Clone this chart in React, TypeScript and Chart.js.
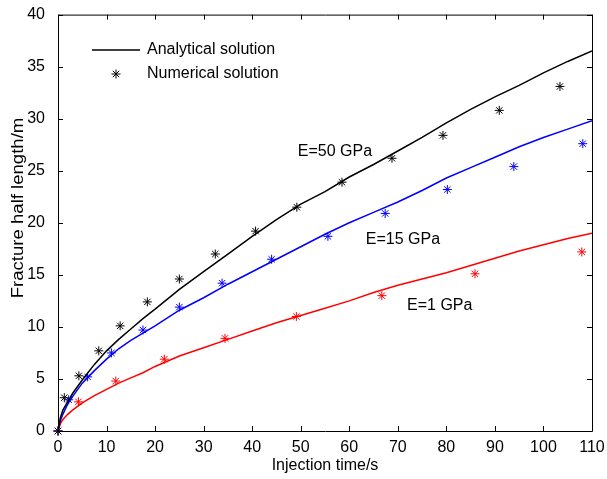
import React, { useEffect, useRef } from "react";
import { Chart, registerables } from "chart.js";
Chart.register(...registerables);

const tAnalytical = [0, 0.5, 1, 2, 3, 5, 7.5, 10, 12.5, 15, 17.5, 20, 25, 30, 35, 40, 45, 50, 55, 60, 65, 70, 75, 80, 85, 90, 95, 100, 105, 110];
const yAnalytical50 = [0, 1.3, 2.0, 2.8, 3.6, 4.9, 6.4, 7.7, 8.8, 9.8, 10.8, 11.7, 13.6, 15.3, 17.0, 18.7, 20.3, 21.8, 23.0, 24.4, 25.6, 26.9, 28.2, 29.6, 30.9, 32.1, 33.2, 34.4, 35.5, 36.5];
const yAnalytical15 = [0, 1.0, 1.6, 2.6, 3.3, 4.6, 5.8, 6.9, 7.9, 8.7, 9.4, 10.1, 11.6, 12.8, 14.1, 15.3, 16.5, 17.7, 18.9, 20.0, 21.0, 22.0, 23.1, 24.3, 25.3, 26.3, 27.3, 28.2, 29.0, 29.8];
const yAnalytical1 = [0, 0.7, 1.1, 1.6, 2.0, 2.7, 3.4, 4.0, 4.6, 5.1, 5.6, 6.2, 7.2, 8.0, 8.8, 9.6, 10.4, 11.1, 11.8, 12.5, 13.3, 14.0, 14.6, 15.2, 15.9, 16.6, 17.3, 17.9, 18.5, 19.0];

const tNum50 = [0, 1.3, 4.3, 8.4, 12.8, 18.4, 25.0, 32.4, 40.7, 49.2, 58.5, 68.8, 79.3, 90.9, 103.4];
const yNum50 = [0, 3.2, 5.3, 7.7, 10.1, 12.4, 14.6, 17.0, 19.2, 21.5, 23.9, 26.2, 28.4, 30.8, 33.1];
const tNum15 = [0, 2.2, 6.1, 11.0, 17.5, 25.0, 33.8, 44.0, 55.6, 67.4, 80.2, 93.9, 108.1];
const yNum15 = [0, 3.0, 5.2, 7.5, 9.7, 11.9, 14.2, 16.5, 18.7, 20.9, 23.2, 25.4, 27.6];
const tNum1 = [0, 4.2, 11.9, 21.9, 34.4, 49.1, 66.7, 85.9, 107.9];
const yNum1 = [0, 2.8, 4.8, 6.9, 8.9, 11.0, 13.0, 15.1, 17.2];

const xTicks = [0, 10, 20, 30, 40, 50, 60, 70, 80, 90, 100, 110];
const yTicks = [0, 5, 10, 15, 20, 25, 30, 35, 40];

const annotations = [
  { text: "E=50 GPa", x: 49.4, y: 26.8 },
  { text: "E=15 GPa", x: 63.4, y: 18.4 },
  { text: "E=1 GPa", x: 71.9, y: 12.0 },
];

const FAMILY = "'Liberation Sans', Arial, sans-serif";
const FONT = "16px " + FAMILY;
const pts = (xs: number[], ys: number[]) => xs.map((x, i) => ({ x, y: ys[i] }));

const overlay = {
  id: "overlay",
  afterDraw(chart: any) {
    const { ctx, chartArea: a, scales } = chart;
    const xs = scales.x, ys = scales.y;
    ctx.save();
    ctx.strokeStyle = "#000";
    ctx.lineWidth = 1;
    ctx.beginPath();
    ctx.rect(a.left + 0.5, a.top + 0.5, a.right - a.left, a.bottom - a.top);
    ctx.stroke();
    ctx.beginPath();
    const tl = 5;
    xTicks.forEach((v) => {
      const px = Math.round(xs.getPixelForValue(v)) + 0.5;
      ctx.moveTo(px, a.bottom); ctx.lineTo(px, a.bottom - tl);
      ctx.moveTo(px, a.top); ctx.lineTo(px, a.top + tl);
    });
    yTicks.forEach((v) => {
      const py = Math.round(ys.getPixelForValue(v)) + 0.5;
      ctx.moveTo(a.left, py); ctx.lineTo(a.left + tl, py);
      ctx.moveTo(a.right, py); ctx.lineTo(a.right - tl, py);
    });
    ctx.stroke();

    ctx.fillStyle = "#000";
    ctx.font = FONT;
    ctx.textBaseline = "middle";
    ctx.textAlign = "center";
    ctx.fillText("Injection time/s", (a.left + a.right) / 2, 466);
    ctx.save();
    ctx.translate(19, 208);
    ctx.rotate(-Math.PI / 2);
    ctx.scale(1.16, 1);
    ctx.fillText("Fracture half length/m", 0, 0);
    ctx.restore();

    ctx.textAlign = "left";
    annotations.forEach((an) => {
      ctx.fillText(an.text, xs.getPixelForValue(an.x), ys.getPixelForValue(an.y));
    });

    // legend
    ctx.beginPath();
    ctx.lineWidth = 1.5;
    ctx.moveTo(92, 50); ctx.lineTo(140, 50);
    ctx.stroke();
    ctx.fillText("Analytical solution", 147, 50);
    ctx.fillText("Numerical solution", 147, 74);
    ctx.lineWidth = 1;
    const r = 4.5, cx = 116, cy = 74;
    ctx.beginPath();
    ctx.moveTo(cx - r, cy); ctx.lineTo(cx + r, cy);
    ctx.moveTo(cx, cy - r); ctx.lineTo(cx, cy + r);
    const d = r * Math.SQRT1_2;
    ctx.moveTo(cx - d, cy - d); ctx.lineTo(cx + d, cy + d);
    ctx.moveTo(cx - d, cy + d); ctx.lineTo(cx + d, cy - d);
    ctx.stroke();
    ctx.restore();
  },
};

export default function App() {
  const ref = useRef<HTMLCanvasElement>(null);
  useEffect(() => {
    document.body.style.margin = "0";
    const line = (ys: number[], color: string) => ({
      data: pts(tAnalytical, ys),
      showLine: true,
      borderColor: color,
      backgroundColor: color,
      borderWidth: 1.5,
      pointRadius: 0,
      tension: 0,
    });
    const stars = (xs: number[], ys: number[], color: string) => ({
      data: pts(xs, ys),
      showLine: false,
      pointStyle: "star",
      pointRadius: 4.5,
      borderColor: color,
      backgroundColor: color,
      pointBorderWidth: 1,
      borderWidth: 1,
      clip: false,
    });
    const chart = new Chart(ref.current!, {
      type: "scatter",
      data: {
        datasets: [
          line(yAnalytical50, "#000000"),
          line(yAnalytical15, "#0000ff"),
          line(yAnalytical1, "#ff0000"),
          stars(tNum50, yNum50, "#000000"),
          stars(tNum15, yNum15, "#0000ff"),
          stars(tNum1, yNum1, "#ff0000"),
        ] as any,
      },
      options: {
        animation: false,
        responsive: false,
        layout: { padding: { top: 11, right: 15, left: 0, bottom: 0 } },
        plugins: { legend: { display: false }, tooltip: { enabled: false } },
        scales: {
          x: {
            type: "linear",
            min: 0,
            max: 110,
            afterFit: (s: any) => { s.height = 48; },
            afterBuildTicks: (s: any) => { s.ticks = xTicks.map((v) => ({ value: v })); },
            grid: { display: false },
            border: { display: false },
            ticks: { color: "#000", padding: -1, maxRotation: 0, font: { family: FAMILY, size: 16 } },
          },
          y: {
            type: "linear",
            min: 0,
            max: 40,
            afterFit: (s: any) => { s.width = 58; },
            afterBuildTicks: (s: any) => { s.ticks = yTicks.map((v) => ({ value: v })); },
            grid: { display: false },
            border: { display: false },
            ticks: { color: "#000", padding: 5, font: { family: FAMILY, size: 16 } },
          },
        },
      },
      plugins: [overlay],
    });
    return () => chart.destroy();
  }, []);
  return (
    <div style={{ width: 607, height: 479, background: "#fff" }}>
      <canvas ref={ref} width={607} height={479} />
    </div>
  );
}
